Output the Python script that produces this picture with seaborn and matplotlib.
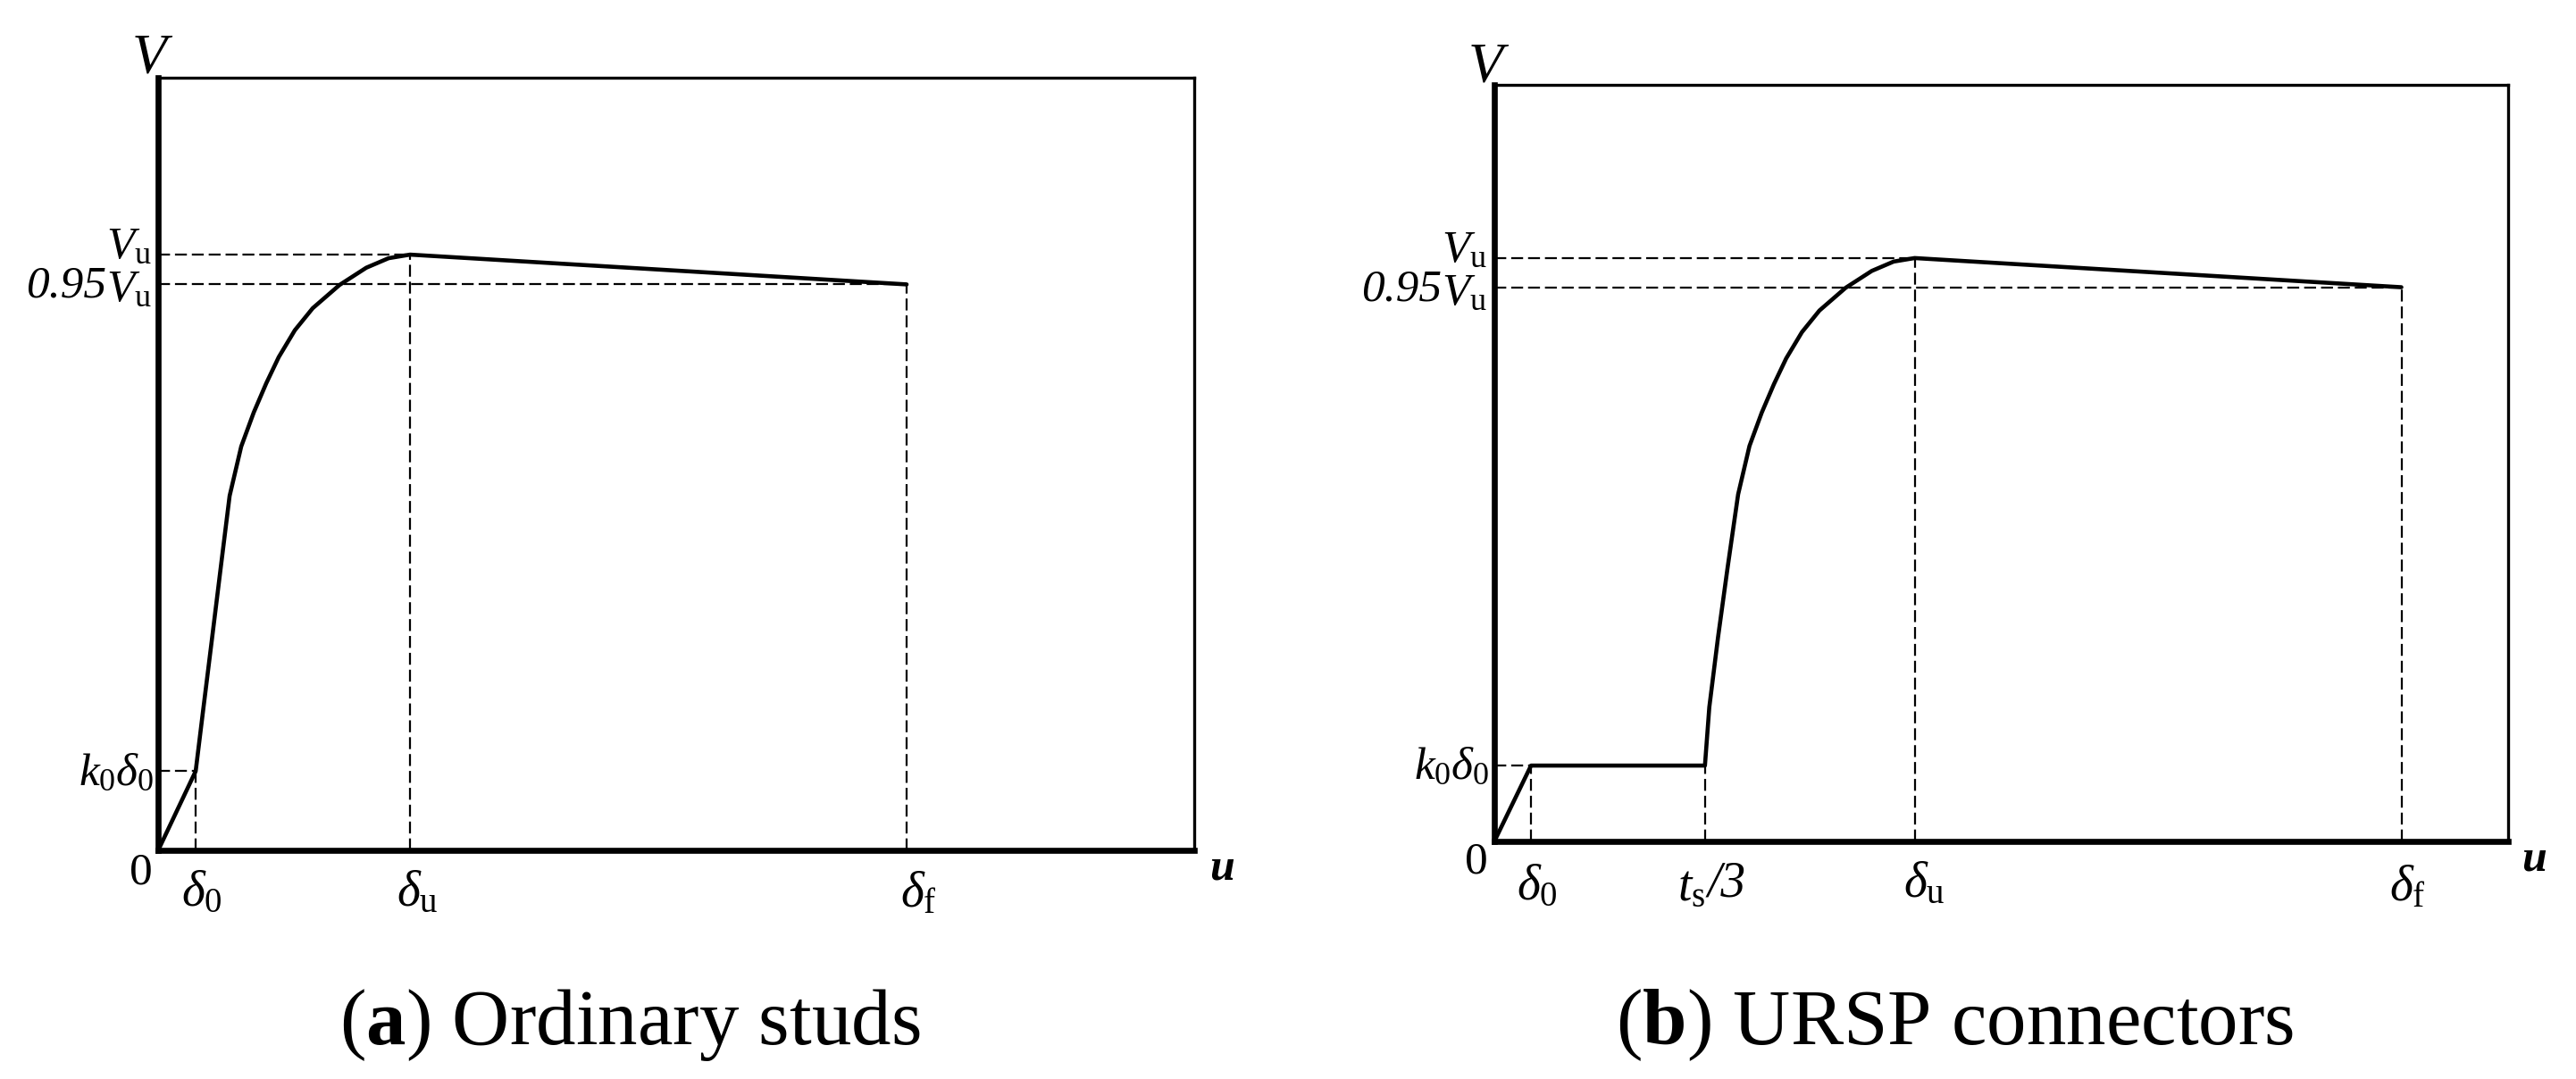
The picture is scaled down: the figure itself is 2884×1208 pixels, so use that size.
import numpy as np
import pandas as pd
import matplotlib
matplotlib.use("Agg")
import matplotlib.pyplot as plt
import seaborn as sns

## Load-slip curves (u in arbitrary units, V in units of Vu)
a_u = [0, 0.42, 0.50, 0.60, 0.70, 0.80, 0.93, 1.07, 1.21, 1.35, 1.53, 1.73, 2.03, 2.33, 2.58, 2.82, 8.38]
a_V = [0, 0.133, 0.231, 0.352, 0.474, 0.595, 0.678, 0.735, 0.784, 0.828, 0.873, 0.910, 0.949, 0.978, 0.994, 1.0, 0.95]

b_u = [0, 0.42, 2.41, 2.46, 2.56, 2.67, 2.79, 2.92, 3.06, 3.20, 3.34, 3.52, 3.72, 4.02, 4.32, 4.57, 4.81, 10.38]
b_V = [0, 0.13, 0.13, 0.23, 0.35, 0.47, 0.595, 0.678, 0.735, 0.784, 0.828, 0.873, 0.910, 0.949, 0.978, 0.994, 1.0, 0.95]

## key points: delta0, delta_u, delta_f (and ts/3 for b)
a_keys_u = [0.42, 2.82, 8.38]
a_keys_V = [0.133, 1.0, 0.95]
b_keys_u = [0.42, 2.41, 4.81, 10.38]
b_keys_V = [0.13, 0.13, 1.0, 0.95]

u_max = 11.6
V_max = 1.297

captions = [r"($\mathbf{a}$) Ordinary studs", r"($\mathbf{b}$) URSP connectors"]

sns.set_style("white")
plt.rcParams['font.family'] = ['Liberation Serif', 'DejaVu Serif']
plt.rcParams['text.color'] = 'black'
plt.rcParams['mathtext.fontset'] = 'custom'
plt.rcParams['mathtext.rm'] = 'Liberation Serif'
plt.rcParams['mathtext.it'] = 'Liberation Serif:italic'
plt.rcParams['mathtext.bf'] = 'Liberation Serif:bold'

fig = plt.figure(figsize=(28.84, 12.08), dpi=100)
ax_a = fig.add_axes([0.0614, 0.2119, 0.4022, 0.7161])
ax_b = fig.add_axes([0.5801, 0.2202, 0.3935, 0.7012])

dash = (0, (6, 2.5))
dlw = 1.6


def lab(ax, s, xy, dx, dy, size=37, ha='center', **kw):
    # dx, dy in pixels, dy positive = up
    ax.annotate(s, xy=xy, xytext=(dx * 0.72, dy * 0.72), textcoords='offset points',
                ha=ha, va='center', fontsize=size, color='black', annotation_clip=False, **kw)


def setup(ax):
    ax.set_xlim(0, u_max)
    ax.set_ylim(0, V_max)
    ax.set_xticks([])
    ax.set_yticks([])
    ax.set_xlabel("")
    ax.set_ylabel("")
    for side in ['left', 'bottom']:
        ax.spines[side].set_linewidth(4.8)
        ax.spines[side].set_color('black')
    for side in ['top', 'right']:
        ax.spines[side].set_linewidth(2.4)
        ax.spines[side].set_color('black')


#(a) ordinary studs
df_a = pd.DataFrame({'u': a_u, 'V': a_V})
sns.lineplot(data=df_a, x='u', y='V', ax=ax_a, color='black', lw=3.3, estimator=None, sort=False)
d0, du, df_ = a_keys_u
k0, Vu, V95 = a_keys_V
ax_a.plot([0, d0], [k0, k0], color='black', lw=dlw, ls=dash)
ax_a.plot([d0, d0], [0, k0], color='black', lw=dlw, ls=dash)
ax_a.plot([0, du], [Vu, Vu], color='black', lw=dlw, ls=dash)
ax_a.plot([du, du], [0, Vu], color='black', lw=dlw, ls=dash)
ax_a.plot([0, df_], [V95, V95], color='black', lw=dlw, ls=dash)
ax_a.plot([df_, df_], [0, V95], color='black', lw=dlw, ls=dash)
setup(ax_a)

lab(ax_a, r"$V$", (0, V_max), -6, 20, size=46)
lab(ax_a, r"$V_\mathrm{u}$", (0, Vu), -7, 8, ha='right')
lab(ax_a, r"$V_\mathrm{u}$", (0, V95), -7, -6, ha='right')
lab(ax_a, "0.95", (0, V95), -58, -2, ha='right', fontstyle='italic')
lab(ax_a, r"$k_0\delta_0$", (0, k0), -5, -4, ha='right')
lab(ax_a, "0", (0, 0), -19, -25)
lab(ax_a, r"$\delta_0$", (d0, 0), 7, -48, size=40)
lab(ax_a, r"$\delta_\mathrm{u}$", (du, 0), 8, -48, size=40)
lab(ax_a, r"$\delta_\mathrm{f}$", (df_, 0), 13, -49, size=40)
lab(ax_a, "u", (u_max, 0), 31, -20, size=36, fontstyle='italic', fontweight='bold')

#(b) URSP connectors
df_b = pd.DataFrame({'u': b_u, 'V': b_V})
sns.lineplot(data=df_b, x='u', y='V', ax=ax_b, color='black', lw=3.3, estimator=None, sort=False)
d0, ts3, du, df_ = b_keys_u
k0, _, Vu, V95 = b_keys_V
ax_b.plot([0, d0], [k0, k0], color='black', lw=dlw, ls=dash)
ax_b.plot([d0, d0], [0, k0], color='black', lw=dlw, ls=dash)
ax_b.plot([ts3, ts3], [0, k0], color='black', lw=dlw, ls=dash)
ax_b.plot([0, du], [Vu, Vu], color='black', lw=dlw, ls=dash)
ax_b.plot([du, du], [0, Vu], color='black', lw=dlw, ls=dash)
ax_b.plot([0, df_], [V95, V95], color='black', lw=dlw, ls=dash)
ax_b.plot([df_, df_], [0, V95], color='black', lw=dlw, ls=dash)
setup(ax_b)

lab(ax_b, r"$V$", (0, V_max), -6, 18, size=46)
lab(ax_b, r"$V_\mathrm{u}$", (0, Vu), -8, 8, ha='right')
lab(ax_b, r"$V_\mathrm{u}$", (0, V95), -8, -7, ha='right')
lab(ax_b, "0.95", (0, V95), -59, -3, ha='right', fontstyle='italic')
lab(ax_b, r"$k_0\delta_0$", (0, k0), -6, -3, ha='right')
lab(ax_b, "0", (0, 0), -20, -23)
lab(ax_b, r"$\delta_0$", (d0, 0), 7, -51, size=40)
lab(ax_b, r"$t_\mathrm{s}$", (ts3, 0), 0, -52, size=40, ha='right')
lab(ax_b, "/3", (ts3, 0), 3, -48, size=40, ha='left', fontstyle='italic')
lab(ax_b, r"$\delta_\mathrm{u}$", (du, 0), 11, -48, size=40)
lab(ax_b, r"$\delta_\mathrm{f}$", (df_, 0), 7, -52, size=40)
lab(ax_b, "u", (u_max, 0), 29, -21, size=36, fontstyle='italic', fontweight='bold')

## captions under each panel
fig.text(705 / 2884, 1 - 1148 / 1208, captions[0], ha='center', va='center', fontsize=64, color='black')
fig.text(2189 / 2884, 1 - 1148 / 1208, captions[1], ha='center', va='center', fontsize=64, color='black')

fig.savefig('out.png', dpi=100)
